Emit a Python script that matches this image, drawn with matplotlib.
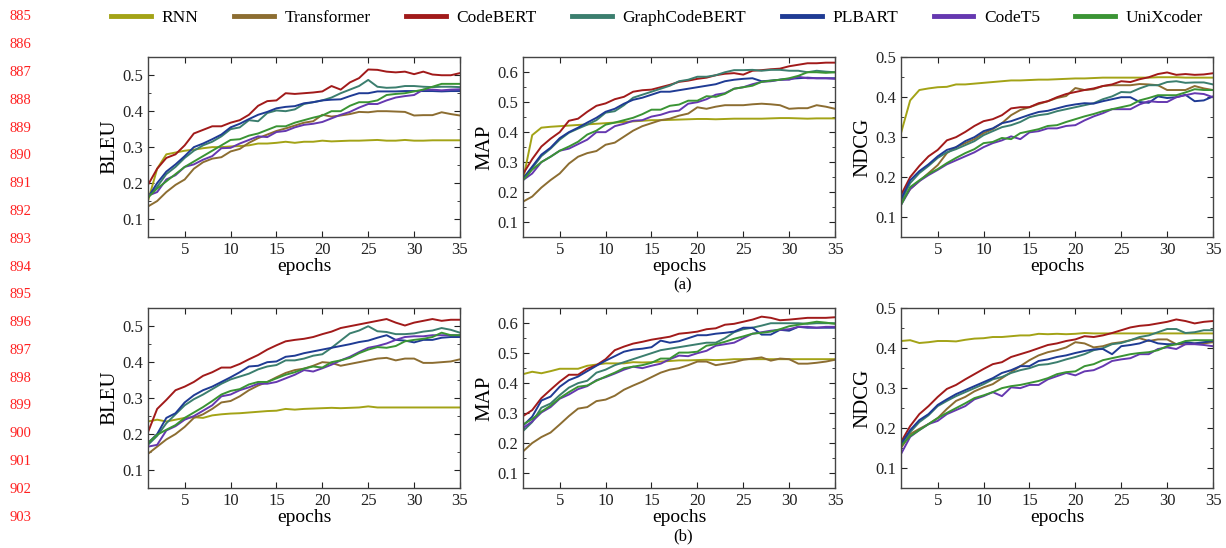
import numpy as np
import matplotlib
matplotlib.use("Agg")
import matplotlib.pyplot as plt
from matplotlib.ticker import MultipleLocator

plt.rcParams['font.family'] = ['Liberation Serif', 'DejaVu Serif']

epochs = np.arange(1, 36)
models = ['RNN', 'Transformer', 'CodeBERT', 'GraphCodeBERT', 'PLBART', 'CodeT5', 'UniXcoder']
colors = ['#a3a316', '#8c6d31', '#a11a1a', '#3b7e6e', '#1f3b94', '#6538b0', '#3a9434']

# ---- (a) row ----
bleu_a = [
    [0.15, 0.24, 0.28, 0.285, 0.29, 0.293, 0.297, 0.30, 0.30, 0.302, 0.303, 0.305, 0.31, 0.31, 0.312, 0.315, 0.312, 0.315, 0.315, 0.318, 0.316, 0.317, 0.318, 0.318, 0.319, 0.32, 0.318, 0.318, 0.32, 0.318, 0.318, 0.319, 0.319, 0.319, 0.319],
    [0.135, 0.15, 0.175, 0.195, 0.21, 0.24, 0.258, 0.268, 0.272, 0.288, 0.295, 0.312, 0.325, 0.335, 0.345, 0.352, 0.36, 0.368, 0.372, 0.39, 0.385, 0.388, 0.392, 0.398, 0.397, 0.40, 0.40, 0.399, 0.398, 0.388, 0.389, 0.389, 0.397, 0.392, 0.388],
    [0.195, 0.24, 0.27, 0.28, 0.305, 0.338, 0.348, 0.358, 0.358, 0.368, 0.375, 0.39, 0.415, 0.428, 0.43, 0.45, 0.448, 0.45, 0.452, 0.455, 0.47, 0.46, 0.48, 0.492, 0.516, 0.515, 0.51, 0.508, 0.51, 0.503, 0.51, 0.502, 0.5, 0.5, 0.506],
    [0.16, 0.19, 0.225, 0.245, 0.27, 0.29, 0.305, 0.315, 0.33, 0.35, 0.355, 0.375, 0.372, 0.395, 0.402, 0.40, 0.405, 0.42, 0.425, 0.43, 0.438, 0.45, 0.46, 0.47, 0.487, 0.468, 0.465, 0.466, 0.47, 0.47, 0.468, 0.467, 0.468, 0.468, 0.467],
    [0.16, 0.2, 0.232, 0.252, 0.275, 0.3, 0.31, 0.322, 0.335, 0.355, 0.365, 0.378, 0.39, 0.398, 0.408, 0.412, 0.414, 0.422, 0.425, 0.43, 0.432, 0.433, 0.442, 0.45, 0.45, 0.455, 0.455, 0.455, 0.456, 0.456, 0.456, 0.456, 0.455, 0.456, 0.456],
    [0.165, 0.175, 0.21, 0.222, 0.245, 0.252, 0.265, 0.275, 0.297, 0.298, 0.31, 0.32, 0.33, 0.328, 0.342, 0.345, 0.355, 0.362, 0.365, 0.37, 0.38, 0.39, 0.398, 0.41, 0.42, 0.42, 0.43, 0.438, 0.442, 0.445, 0.46, 0.46, 0.458, 0.46, 0.461],
    [0.16, 0.185, 0.205, 0.225, 0.245, 0.26, 0.275, 0.29, 0.305, 0.32, 0.322, 0.332, 0.338, 0.348, 0.358, 0.358, 0.368, 0.375, 0.382, 0.388, 0.4, 0.4, 0.415, 0.425, 0.425, 0.43, 0.445, 0.448, 0.45, 0.455, 0.46, 0.468, 0.476, 0.476, 0.476],
]
map_a = [
    [0.24, 0.39, 0.415, 0.418, 0.42, 0.422, 0.424, 0.426, 0.428, 0.43, 0.432, 0.434, 0.436, 0.438, 0.44, 0.44, 0.441, 0.442, 0.443, 0.444, 0.444, 0.443, 0.444, 0.445, 0.445, 0.445, 0.445, 0.446, 0.447, 0.447, 0.446, 0.445, 0.446, 0.446, 0.446],
    [0.168, 0.185, 0.215, 0.24, 0.262, 0.295, 0.318, 0.33, 0.337, 0.358, 0.365, 0.385, 0.405, 0.42, 0.43, 0.44, 0.445, 0.455, 0.462, 0.483, 0.478, 0.485, 0.49, 0.49, 0.49, 0.493, 0.495, 0.493, 0.49, 0.478, 0.48, 0.48, 0.49, 0.485, 0.478],
    [0.26, 0.31, 0.352, 0.378, 0.4, 0.438, 0.445, 0.468, 0.488, 0.496, 0.51, 0.518, 0.535, 0.54, 0.542, 0.55, 0.558, 0.568, 0.572, 0.578, 0.582, 0.59, 0.595, 0.597, 0.592, 0.605, 0.607, 0.61, 0.612, 0.62, 0.625, 0.63, 0.63, 0.632, 0.632],
    [0.24, 0.28, 0.32, 0.345, 0.375, 0.398, 0.412, 0.425, 0.44, 0.465, 0.47, 0.49, 0.515, 0.525, 0.535, 0.545, 0.555, 0.57, 0.575, 0.585, 0.585, 0.59, 0.6, 0.607, 0.607, 0.608, 0.605, 0.608, 0.608, 0.605, 0.605, 0.6, 0.605, 0.602, 0.6],
    [0.245, 0.285, 0.325, 0.348, 0.38, 0.4, 0.415, 0.432, 0.448, 0.468, 0.478, 0.495, 0.508, 0.515, 0.525, 0.535, 0.535, 0.54, 0.545, 0.55, 0.555, 0.56, 0.57, 0.575, 0.578, 0.58, 0.57, 0.572, 0.575, 0.578, 0.58, 0.582, 0.58, 0.58, 0.58],
    [0.24, 0.262, 0.3, 0.318, 0.338, 0.345, 0.36, 0.375, 0.4, 0.4, 0.42, 0.428, 0.438, 0.44, 0.452, 0.458, 0.468, 0.472, 0.495, 0.5, 0.51, 0.525, 0.53, 0.545, 0.55, 0.56, 0.568, 0.57, 0.575, 0.575, 0.585, 0.58, 0.58, 0.58, 0.578],
    [0.24, 0.275, 0.3, 0.318, 0.338, 0.352, 0.368, 0.392, 0.405, 0.425, 0.432, 0.44, 0.448, 0.46, 0.475, 0.475, 0.488, 0.492, 0.505, 0.505, 0.52, 0.518, 0.528, 0.545, 0.55, 0.555, 0.568, 0.572, 0.575, 0.58, 0.588, 0.6, 0.6, 0.598, 0.6],
]
ndcg_a = [
    [0.31, 0.392, 0.418, 0.422, 0.425, 0.426, 0.432, 0.432, 0.434, 0.436, 0.438, 0.44, 0.442, 0.442, 0.443, 0.444, 0.444, 0.445, 0.446, 0.447, 0.447, 0.448, 0.449, 0.449, 0.449, 0.449, 0.449, 0.449, 0.45, 0.45, 0.45, 0.449, 0.449, 0.449, 0.449],
    [0.135, 0.17, 0.19, 0.21, 0.23, 0.26, 0.275, 0.285, 0.295, 0.31, 0.32, 0.335, 0.355, 0.368, 0.375, 0.383, 0.39, 0.398, 0.403, 0.423, 0.418, 0.42, 0.428, 0.43, 0.43, 0.43, 0.433, 0.432, 0.43, 0.418, 0.418, 0.418, 0.428, 0.422, 0.418],
    [0.155, 0.2, 0.228, 0.252, 0.268, 0.292, 0.3, 0.313, 0.328, 0.34, 0.345, 0.355, 0.372, 0.375, 0.375, 0.385, 0.39, 0.4, 0.408, 0.413, 0.418, 0.422, 0.428, 0.432, 0.44, 0.438, 0.445, 0.45, 0.458, 0.462, 0.456, 0.458, 0.456, 0.457, 0.46],
    [0.14, 0.185, 0.21, 0.228, 0.248, 0.262, 0.27, 0.28, 0.29, 0.305, 0.315, 0.325, 0.33, 0.338, 0.35, 0.355, 0.358, 0.365, 0.37, 0.375, 0.38, 0.385, 0.395, 0.402, 0.413, 0.412, 0.422, 0.43, 0.43, 0.438, 0.44, 0.436, 0.437, 0.437, 0.432],
    [0.145, 0.192, 0.215, 0.232, 0.252, 0.268, 0.275, 0.29, 0.3, 0.315, 0.322, 0.335, 0.34, 0.348, 0.356, 0.363, 0.366, 0.372, 0.378, 0.382, 0.385, 0.384, 0.39, 0.395, 0.4, 0.4, 0.388, 0.386, 0.402, 0.398, 0.4, 0.406, 0.39, 0.392, 0.402],
    [0.13, 0.17, 0.19, 0.205, 0.218, 0.232, 0.242, 0.252, 0.262, 0.275, 0.285, 0.292, 0.302, 0.295, 0.312, 0.315, 0.322, 0.322, 0.328, 0.33, 0.342, 0.352, 0.36, 0.37, 0.37, 0.37, 0.382, 0.39, 0.388, 0.388, 0.4, 0.405, 0.41, 0.408, 0.4],
    [0.13, 0.175, 0.192, 0.208, 0.22, 0.235, 0.248, 0.26, 0.27, 0.285, 0.288, 0.298, 0.295, 0.31, 0.315, 0.32, 0.328, 0.33, 0.338, 0.345, 0.352, 0.358, 0.365, 0.37, 0.375, 0.38, 0.392, 0.398, 0.405, 0.405, 0.405, 0.412, 0.42, 0.418, 0.418],
]

# ---- (b) row ----
bleu_b = [
    [0.235, 0.24, 0.235, 0.24, 0.245, 0.247, 0.245, 0.252, 0.255, 0.257, 0.258, 0.26, 0.262, 0.264, 0.265, 0.27, 0.268, 0.27, 0.271, 0.272, 0.273, 0.272, 0.273, 0.274, 0.277, 0.274, 0.274, 0.274, 0.274, 0.274, 0.274, 0.274, 0.274, 0.274, 0.274],
    [0.145, 0.165, 0.185, 0.2, 0.22, 0.245, 0.255, 0.27, 0.288, 0.292, 0.305, 0.322, 0.335, 0.345, 0.358, 0.37, 0.378, 0.382, 0.39, 0.4, 0.398, 0.39, 0.395, 0.4, 0.405, 0.41, 0.412, 0.405, 0.41, 0.41, 0.398, 0.398, 0.4, 0.402, 0.408],
    [0.205, 0.27, 0.295, 0.322, 0.332, 0.345, 0.362, 0.372, 0.385, 0.385, 0.395, 0.408, 0.42, 0.435, 0.447, 0.458, 0.462, 0.465, 0.47, 0.478, 0.485, 0.495, 0.5, 0.505, 0.51, 0.515, 0.52, 0.51, 0.502, 0.51, 0.515, 0.52, 0.515, 0.518, 0.518],
    [0.17, 0.195, 0.23, 0.255, 0.28, 0.297, 0.31, 0.325, 0.34, 0.352, 0.36, 0.368, 0.38, 0.388, 0.392, 0.405, 0.405, 0.41, 0.418, 0.422, 0.44, 0.46, 0.48, 0.488, 0.5, 0.486, 0.484, 0.478, 0.478, 0.48, 0.485, 0.488, 0.495, 0.49, 0.482],
    [0.175, 0.2, 0.245, 0.258, 0.288, 0.308, 0.322, 0.332, 0.345, 0.358, 0.372, 0.388, 0.39, 0.4, 0.402, 0.415, 0.418, 0.425, 0.43, 0.435, 0.44, 0.445, 0.45, 0.456, 0.46, 0.468, 0.475, 0.462, 0.46, 0.455, 0.462, 0.462, 0.468, 0.47, 0.47],
    [0.165, 0.17, 0.21, 0.222, 0.24, 0.25, 0.265, 0.28, 0.305, 0.31, 0.322, 0.33, 0.34, 0.34, 0.345, 0.355, 0.365, 0.378, 0.374, 0.383, 0.393, 0.405, 0.415, 0.428, 0.44, 0.445, 0.452, 0.462, 0.47, 0.472, 0.472, 0.475, 0.475, 0.475, 0.475],
    [0.175, 0.198, 0.212, 0.225, 0.245, 0.26, 0.275, 0.292, 0.31, 0.32, 0.325, 0.338, 0.345, 0.345, 0.355, 0.365, 0.372, 0.382, 0.388, 0.385, 0.4, 0.405, 0.412, 0.425, 0.435, 0.442, 0.44, 0.445, 0.458, 0.462, 0.465, 0.47, 0.482, 0.475, 0.475],
]
map_b = [
    [0.43, 0.438, 0.433, 0.44, 0.448, 0.448, 0.448, 0.458, 0.462, 0.466, 0.466, 0.466, 0.47, 0.469, 0.47, 0.472, 0.474, 0.476, 0.476, 0.477, 0.478, 0.477, 0.478, 0.48, 0.48, 0.48, 0.48, 0.48, 0.48, 0.48, 0.48, 0.48, 0.48, 0.48, 0.48],
    [0.172, 0.2, 0.22, 0.235, 0.262, 0.29, 0.315, 0.32, 0.34, 0.345, 0.358, 0.378, 0.392, 0.405, 0.42, 0.435, 0.445, 0.45, 0.46, 0.472, 0.472, 0.46, 0.465, 0.47, 0.478, 0.482, 0.486, 0.475, 0.482, 0.48, 0.465, 0.465, 0.468, 0.472, 0.478],
    [0.29, 0.31, 0.35, 0.378, 0.405, 0.428, 0.428, 0.448, 0.46, 0.48, 0.51, 0.522, 0.532, 0.538, 0.545, 0.55, 0.555, 0.565, 0.568, 0.572, 0.58, 0.583, 0.595, 0.598, 0.605, 0.612, 0.622, 0.618, 0.61, 0.612, 0.615, 0.618, 0.618, 0.618, 0.62],
    [0.24, 0.27, 0.318, 0.332, 0.36, 0.385, 0.4, 0.408, 0.435, 0.445, 0.46, 0.47, 0.48, 0.49, 0.5, 0.51, 0.515, 0.52, 0.525, 0.53, 0.535, 0.535, 0.55, 0.57, 0.58, 0.585, 0.592, 0.6, 0.6, 0.6, 0.6, 0.598, 0.6, 0.6, 0.6],
    [0.258, 0.288, 0.342, 0.355, 0.388, 0.41, 0.422, 0.44, 0.458, 0.475, 0.49, 0.505, 0.512, 0.515, 0.52, 0.542, 0.535, 0.54, 0.55, 0.56, 0.56, 0.565, 0.568, 0.572, 0.585, 0.585, 0.562, 0.562, 0.578, 0.575, 0.588, 0.585, 0.585, 0.585, 0.585],
    [0.25, 0.272, 0.302, 0.32, 0.348, 0.362, 0.38, 0.39, 0.41, 0.42, 0.432, 0.445, 0.455, 0.45, 0.458, 0.465, 0.48, 0.492, 0.49, 0.5, 0.508, 0.525, 0.53, 0.535, 0.55, 0.565, 0.57, 0.575, 0.578, 0.58, 0.588, 0.588, 0.585, 0.588, 0.588],
    [0.262, 0.28, 0.305, 0.325, 0.35, 0.37, 0.388, 0.392, 0.408, 0.422, 0.435, 0.45, 0.455, 0.46, 0.468, 0.482, 0.482, 0.502, 0.502, 0.505, 0.525, 0.53, 0.538, 0.548, 0.556, 0.565, 0.568, 0.572, 0.58, 0.59, 0.595, 0.6, 0.605, 0.602, 0.598],
]
ndcg_b = [
    [0.418, 0.42, 0.413, 0.415, 0.418, 0.418, 0.417, 0.421, 0.424, 0.425, 0.428, 0.428, 0.43, 0.432, 0.432, 0.436, 0.435, 0.436, 0.435, 0.436, 0.438, 0.437, 0.437, 0.437, 0.437, 0.437, 0.437, 0.437, 0.437, 0.437, 0.437, 0.437, 0.437, 0.437, 0.437],
    [0.15, 0.185, 0.198, 0.21, 0.225, 0.248, 0.268, 0.278, 0.292, 0.302, 0.31, 0.325, 0.34, 0.355, 0.37, 0.382, 0.39, 0.395, 0.402, 0.415, 0.412, 0.402, 0.405, 0.412, 0.415, 0.42, 0.425, 0.418, 0.422, 0.422, 0.41, 0.41, 0.412, 0.412, 0.415],
    [0.165, 0.205, 0.235, 0.255, 0.278, 0.298, 0.308, 0.322, 0.335, 0.348, 0.36, 0.365, 0.378, 0.385, 0.392, 0.4, 0.408, 0.412, 0.418, 0.422, 0.43, 0.428, 0.432, 0.438, 0.445, 0.452, 0.456, 0.458, 0.462, 0.466, 0.472, 0.468, 0.462, 0.466, 0.468],
    [0.16, 0.19, 0.215, 0.232, 0.255, 0.268, 0.28, 0.29, 0.3, 0.31, 0.322, 0.328, 0.338, 0.345, 0.35, 0.358, 0.36, 0.365, 0.372, 0.378, 0.385, 0.395, 0.4, 0.41, 0.413, 0.42, 0.428, 0.432, 0.44, 0.448, 0.448, 0.438, 0.44, 0.445, 0.445],
    [0.16, 0.195, 0.22, 0.235, 0.258, 0.272, 0.285, 0.295, 0.305, 0.315, 0.325, 0.338, 0.345, 0.355, 0.355, 0.368, 0.372, 0.378, 0.382, 0.388, 0.393, 0.397, 0.398, 0.385, 0.405, 0.408, 0.412, 0.42, 0.412, 0.41, 0.41, 0.415, 0.412, 0.415, 0.418],
    [0.135, 0.178, 0.195, 0.21, 0.218, 0.235, 0.245, 0.255, 0.272, 0.28, 0.29, 0.28, 0.302, 0.3, 0.308, 0.308, 0.322, 0.33, 0.338, 0.332, 0.342, 0.345, 0.355, 0.368, 0.372, 0.375, 0.385, 0.385, 0.398, 0.402, 0.398, 0.41, 0.41, 0.408, 0.405],
    [0.155, 0.18, 0.195, 0.21, 0.225, 0.238, 0.25, 0.262, 0.275, 0.282, 0.29, 0.3, 0.305, 0.308, 0.313, 0.318, 0.325, 0.335, 0.34, 0.342, 0.355, 0.36, 0.37, 0.375, 0.38, 0.385, 0.388, 0.39, 0.395, 0.405, 0.41, 0.418, 0.42, 0.42, 0.42],
]

panels = [
    [(bleu_a, 'BLEU', (0.05, 0.55)), (map_a, 'MAP', (0.05, 0.65)), (ndcg_a, 'NDCG', (0.05, 0.5))],
    [(bleu_b, 'BLEU', (0.05, 0.55)), (map_b, 'MAP', (0.05, 0.65)), (ndcg_b, 'NDCG', (0.05, 0.5))],
]
line_numbers = list(range(885, 904))

fig = plt.figure(figsize=(12.26, 5.48), dpi=100)
lefts = [0.1207, 0.4266, 0.7349]
bottoms = [0.5675, 0.1095]
w, h = 0.2545, 0.328

for r in range(2):
    for c in range(3):
        data, label, ylim = panels[r][c]
        ax = fig.add_axes([lefts[c], bottoms[r], w, h])
        for i, name in enumerate(models):
            ax.plot(epochs, data[i], color=colors[i], lw=1.4, label=name)
        ax.set_xlim(1, 35)
        ax.set_ylim(*ylim)
        ax.xaxis.set_major_locator(MultipleLocator(5))
        ax.yaxis.set_major_locator(MultipleLocator(0.1))
        ax.yaxis.set_minor_locator(MultipleLocator(0.05))
        ax.tick_params(which='both', direction='in', top=True, right=True, labelsize=12, colors='#222222')
        ax.tick_params(which='major', length=4)
        ax.tick_params(which='minor', length=2)
        for s in ax.spines.values():
            s.set_color('#444444')
            s.set_linewidth(1.0)
        ax.set_xlabel('epochs', fontsize=14, labelpad=0)
        ax.set_ylabel(label, fontsize=15, labelpad=2)

fig.text(0.557, 0.48, '(a)', ha='center', va='center', fontsize=12)
fig.text(0.557, 0.022, '(b)', ha='center', va='center', fontsize=12)

# legend row
handles = [plt.Line2D([], [], color=colors[i], lw=3.5) for i in range(len(models))]
fig.legend(handles, models, loc='center', bbox_to_anchor=(0.536, 0.968), ncol=7, frameon=False,
           fontsize=12.5, handlelength=2.3, columnspacing=2.05, handletextpad=0.6)

# line numbers on the left margin
for k, n in enumerate(line_numbers):
    y = 1 - (17 + k * 27.78) / 548
    fig.text(0.017, y, str(n), ha='center', va='center', color='#ff2020', fontsize=10.5)

fig.savefig('out.png', dpi=100)
